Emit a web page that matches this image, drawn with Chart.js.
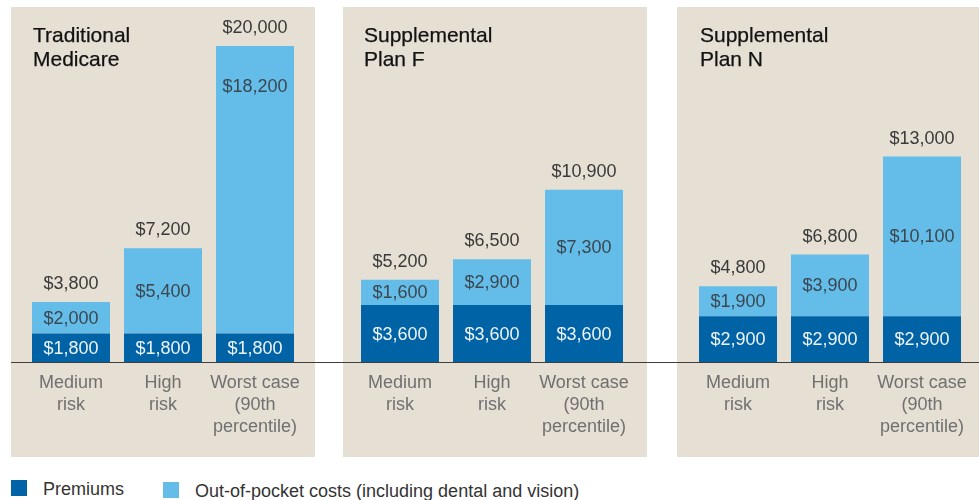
<!DOCTYPE html>
<html>
<head>
<meta charset="utf-8">
<script src="https://cdn.jsdelivr.net/npm/chart.js@4.4.1/dist/chart.umd.min.js"></script>
<style>
  html, body { margin: 0; padding: 0; background: #fff; overflow: hidden; }
  body { width: 979px; height: 500px; position: relative; font-family: "Liberation Sans", Arial, sans-serif; }
  .panel { position: absolute; top: 7px; width: 304px; height: 450px; background: #e5dfd4; }
  .panel canvas { position: absolute; left: 0; top: 0; }
  .title { position: absolute; top: 16px; left: 22px; font-size: 21px; line-height: 24px; color: #121212; z-index: 2; -webkit-text-stroke: 0.25px #121212; }
  .baseline { position: absolute; left: 11px; top: 362px; width: 968px; height: 1.4px; background: #3d3d3d; z-index: 3; }
  .legend { position: absolute; top: 478px; font-size: 18px; color: #333; line-height: 22px; }
  .legend i { position: absolute; left: 0; top: 2px; width: 16px; height: 16px; }
  .legend span { position: absolute; left: 32px; top: 0; white-space: nowrap; }
</style>
</head>
<body>
<div class="panel" style="left:11px"><div class="title">Traditional<br>Medicare</div><canvas id="c0"></canvas></div>
<div class="panel" style="left:343px"><div class="title" style="left:21px">Supplemental<br>Plan F</div><canvas id="c1"></canvas></div>
<div class="panel" style="left:677px"><div class="title" style="left:23px">Supplemental<br>Plan N</div><canvas id="c2"></canvas></div>
<div class="baseline"></div>
<div class="legend" style="left:11px"><i style="background:#0063a6"></i><span>Premiums</span></div>
<div class="legend" style="left:163px;top:480px"><i style="background:#63bde8"></i><span>Out-of-pocket costs (including dental and vision)</span></div>

<script>
const CATEGORIES = [["Medium", "risk"], ["High", "risk"], ["Worst case", "(90th", "percentile)"]];
const PLANS = ["Traditional Medicare", "Supplemental Plan F", "Supplemental Plan N"];
const PREMIUMS = [
  [1800, 1800, 1800],
  [3600, 3600, 3600],
  [2900, 2900, 2900],
];
const OUT_OF_POCKET = [
  [2000, 5400, 18200],
  [1600, 2900, 7300],
  [1900, 3900, 10100],
];
const DARK = "#0063a6";
const LIGHT = "#63bde8";
const FONT = "Liberation Sans, Arial, sans-serif";
// left/right padding of each panel's plot area
const PAD = [[14, 14], [11, 17], [15, 13]];

const money = (n) => "$" + n.toLocaleString("en-US");

const valueLabels = {
  id: "valueLabels",
  afterDatasetsDraw(chart) {
    const { ctx } = chart;
    ctx.save();
    ctx.font = `18px ${FONT}`;
    ctx.textAlign = "center";
    ctx.textBaseline = "middle";
    const tops = [];
    chart.data.datasets.forEach((ds, di) => {
      chart.getDatasetMeta(di).data.forEach((bar, i) => {
        const { x, y, base } = bar.getProps(["x", "y", "base"], true);
        const h = base - y;
        ctx.fillStyle = di === 0 ? "#eef3f8" : "#3b4750";
        ctx.fillText(money(ds.data[i]), x, h > 250 ? y + 41 : y + h / 2 + 1);
        tops[i] = Math.min(tops[i] ?? Infinity, y);
      });
    });
    ctx.fillStyle = "#3a3a3a";
    ctx.textBaseline = "bottom";
    tops.forEach((y, i) => {
      const total = chart.data.datasets.reduce((s, ds) => s + ds.data[i], 0);
      ctx.fillText(money(total), chart.getDatasetMeta(0).data[i].x, y - 9);
    });
    ctx.restore();
  },
};

PLANS.forEach((plan, p) => {
  new Chart(document.getElementById("c" + p), {
    type: "bar",
    data: {
      labels: CATEGORIES,
      datasets: [
        { label: "Premiums", data: PREMIUMS[p], backgroundColor: DARK },
        { label: "Out-of-pocket costs (including dental and vision)", data: OUT_OF_POCKET[p], backgroundColor: LIGHT },
      ],
    },
    options: {
      responsive: true,
      maintainAspectRatio: false,
      animation: false,
      layout: { padding: { top: 39, left: PAD[p][0], right: PAD[p][1], bottom: 0 } },
      datasets: { bar: { categoryPercentage: 1, barPercentage: 78 / 92 } },
      plugins: { legend: { display: false }, tooltip: { enabled: false }, title: { display: false } },
      scales: {
        x: {
          stacked: true,
          grid: { display: false, drawTicks: false },
          border: { display: false },
          afterFit: (s) => { s.height = 95; },
          ticks: {
            color: "#707070", padding: 10, maxRotation: 0, autoSkip: false,
            font: { family: FONT, size: 18, lineHeight: "22px" },
          },
        },
        y: { stacked: true, display: false, min: 0, max: 20000 },
      },
    },
    plugins: [valueLabels],
  });
});
</script>
</body>
</html>
